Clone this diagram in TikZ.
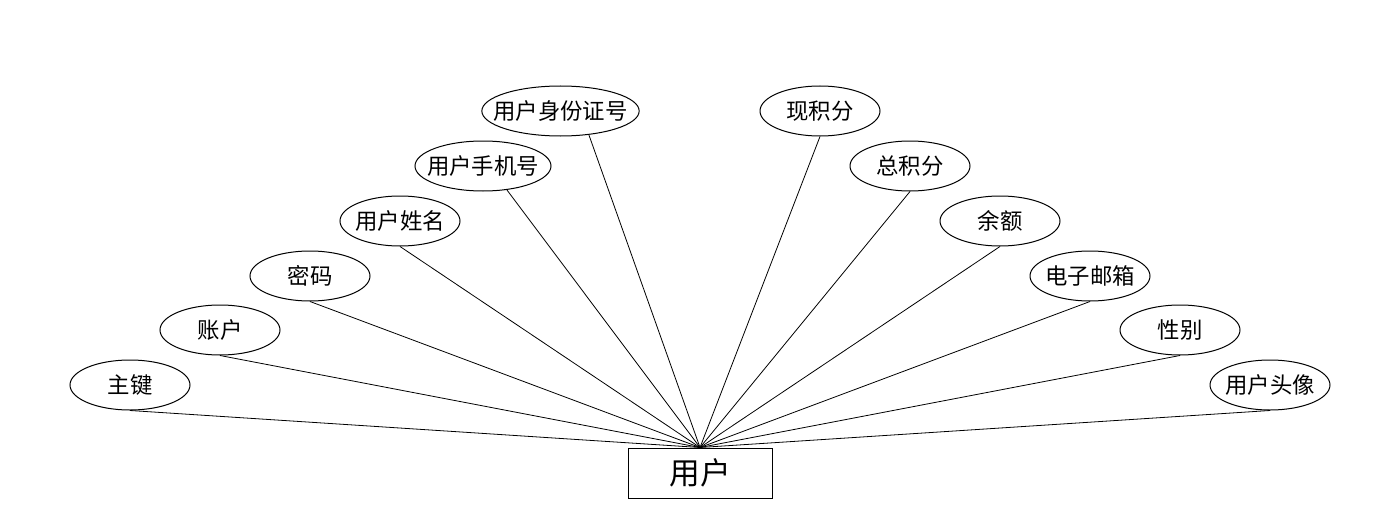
\documentclass[tikz,border=0pt]{standalone}
\usepackage{fontspec}
\setmainfont{Noto Sans CJK SC}
\usetikzlibrary{shapes.geometric}
\begin{document}
\begin{tikzpicture}[x=0.75pt,y=-0.75pt,
  attr/.style={draw,ellipse,line width=0.75pt,inner sep=0pt,minimum height=37.5pt,font=\fontsize{16.8}{19}\selectfont},
  ent/.style={draw,rectangle,line width=0.75pt,inner sep=0pt,minimum width=108pt,minimum height=37.5pt,font=\fontsize{23}{27}\selectfont},
  conn/.style={line width=0.6pt}]
\useasboundingbox (0,0) rectangle (1400,528);
\newcommand{\zt}[1]{\makebox[0pt]{#1}}
\node[ent] (user) at (700,473) {用户};
\node[attr,minimum width=90pt] (zj) at (130,385) {\zt{主键}};
\node[attr,minimum width=90pt] (zh) at (220,330) {\zt{账户}};
\node[attr,minimum width=90pt] (mm) at (310,276) {\zt{密码}};
\node[attr,minimum width=90pt] (xm) at (400,221) {\zt{用户姓名}};
\node[attr,minimum width=102pt] (sj) at (483,166) {\zt{用户手机号}};
\node[attr,minimum width=118pt] (sfz) at (560.5,111) {\zt{用户身份证号}};
\node[attr,minimum width=90pt] (xjf) at (820,111) {\zt{现积分}};
\node[attr,minimum width=90pt] (zjf) at (910,166) {\zt{总积分}};
\node[attr,minimum width=90pt] (ye) at (1000,221) {\zt{余额}};
\node[attr,minimum width=90pt] (yx) at (1090,276) {\zt{电子邮箱}};
\node[attr,minimum width=90pt] (xb) at (1180,330) {\zt{性别}};
\node[attr,minimum width=90pt] (tx) at (1270,385) {\zt{用户头像}};
\foreach \n in {zj,zh,mm,xm,xjf,zjf,ye,yx,xb,tx}
  \draw[conn] (\n.south) -- (user.north);
\draw[conn] (sj.-45) -- (user.north);
\draw[conn] (sfz.-40) -- (user.north);
\end{tikzpicture}
\end{document}
